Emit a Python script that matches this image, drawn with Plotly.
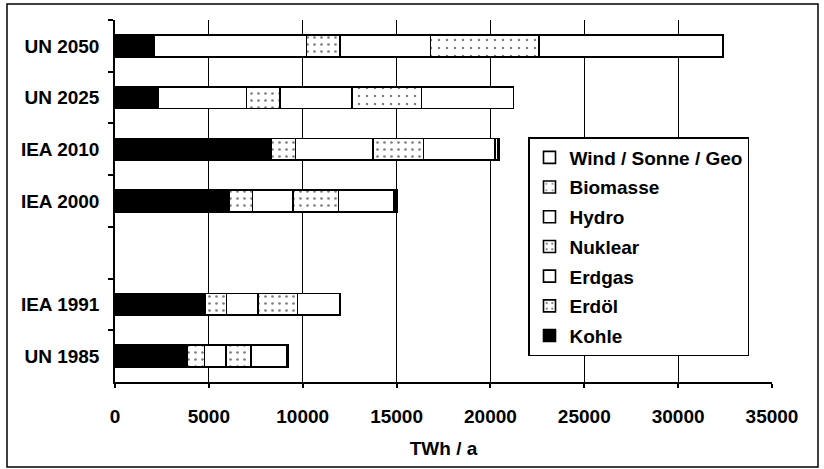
import plotly.graph_objects as go

# ---- data (TWh / a) ----
categories = ["UN 2050", "UN 2025", "IEA 2010", "IEA 2000", " ", "IEA 1991", "UN 1985"]
kohle    = [2100, 2300, 8330, 6110, None, 4800, 3860]
erdoel   = [None, None, 1290, 1220, None, 1130, 900]
erdgas   = [8100, 4710, 4120, 2150, None, 1700, 1150]
nuklear  = [1800, 1770, 2690, 2420, None, 2100, 1340]
hydro    = [4800, 3840, 3820, 2960, None, 2240, 1880]
biomasse = [5800, 3700, 150, 100, None, 30, 80]
wind     = [9800, 4910, 70, 60, None, None, 40]
x_ticks  = [0, 5000, 10000, 15000, 20000, 25000, 30000, 35000]

W, H = 824, 469
ML, MR, MT, MB = 115, 52, 20, 87
FONT = "Liberation Sans, Arial, sans-serif"
FS = 19

dots = dict(shape=".", fgcolor="black", bgcolor="white", size=7, solidity=0.12)
series = [
    ("Kohle", kohle, dict(color="black")),
    ("Erdöl", erdoel, dict(color="white", pattern=dots)),
    ("Erdgas", erdgas, dict(color="white")),
    ("Nuklear", nuklear, dict(color="white", pattern=dots)),
    ("Hydro", hydro, dict(color="white")),
    ("Biomasse", biomasse, dict(color="white", pattern=dict(shape=".", fgcolor="black", bgcolor="white", size=8, solidity=0.08))),
    ("Wind / Sonne / Geo", wind, dict(color="white")),
]

fig = go.Figure()
n = len(series)
for i, (name, vals, mk) in enumerate(series):
    mk = dict(mk)
    mk["line"] = dict(color="black", width=1.6)
    fig.add_trace(go.Bar(
        y=categories, x=vals, name=name, orientation="h",
        marker=mk, legendgroup=name, legendrank=(n - i) * 10,
        hoverinfo="x+name",
    ))

def px_x(p):
    return (p - ML) / (W - ML - MR)

def px_y(p):
    return (H - MB - p) / (H - MT - MB)

fig.update_layout(
    width=W, height=H,
    margin=dict(l=ML, r=MR, t=MT, b=MB),
    barmode="stack", bargap=0.58,
    paper_bgcolor="white", plot_bgcolor="white",
    font=dict(family=FONT, size=FS, color="black", weight="bold"),
    showlegend=True,
    legend=dict(
        x=px_x(528), y=px_y(137), xanchor="left", yanchor="top",
        bgcolor="white", bordercolor="black", borderwidth=1.5,
        traceorder="grouped", tracegroupgap=2,
        font=dict(family=FONT, size=FS, color="black", weight="bold"),
        itemwidth=30,
    ),
    xaxis=dict(
        range=[0, 35000], tickvals=x_ticks, ticktext=[str(v) for v in x_ticks],
        showgrid=True, gridcolor="black", gridwidth=1.3,
        showline=True, linecolor="black", linewidth=1.5,
        ticks="outside", ticklen=4, tickcolor="black", tickwidth=1.5,
        ticklabelstandoff=12, zeroline=False,
        title=dict(text="TWh / a", standoff=16,
                   font=dict(family=FONT, size=FS, color="black", weight="bold")),
    ),
    yaxis=dict(
        type="category", categoryorder="array", categoryarray=categories,
        autorange="reversed", showgrid=False,
        showline=True, linecolor="black", linewidth=1.5,
        ticks="outside", ticklen=5, tickcolor="black", tickwidth=1.5,
        tickson="boundaries", ticklabelstandoff=10,
    ),
    shapes=[dict(
        type="rect", xref="paper", yref="paper",
        x0=px_x(7), x1=px_x(818), y0=px_y(467), y1=px_y(4),
        line=dict(color="black", width=1.5), fillcolor="rgba(0,0,0,0)", layer="below",
    )],
)

fig.write_html("out.html")
